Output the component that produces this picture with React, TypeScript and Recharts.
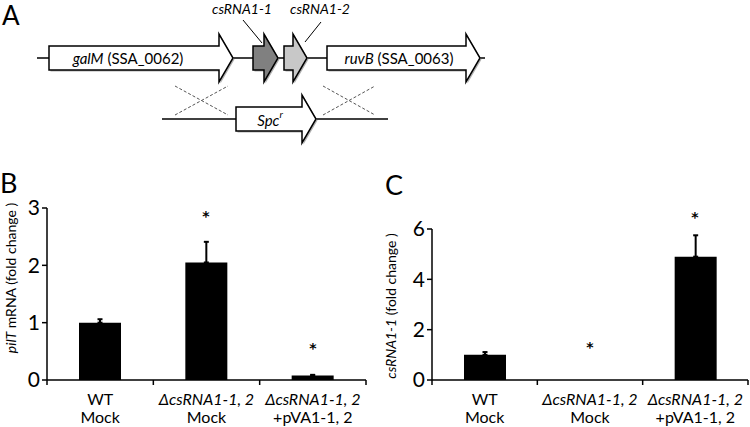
import React from "react";
import { ComposedChart, Bar, XAxis, YAxis, ErrorBar, ReferenceDot } from "recharts";

const FONT = "Lato, 'Open Sans', sans-serif";

// groups shared by panels B and C
const groups = ["wt", "del", "comp"];
const groupLine1 = ["WT", "ΔcsRNA1-1, 2", "ΔcsRNA1-1, 2"];
const groupLine2 = ["Mock", "Mock", "+pVA1-1, 2"];
const line1Italic = [false, true, true];

// panel B: pilT mRNA
const pilTMean = [1.0, 2.05, 0.08];
const pilTErr = [0.06, 0.36, 0.01];
const pilTStars = [null, 2.91, 0.61];
const pilTTicks = [0, 1, 2, 3];

// panel C: csRNA1-1
const csrnaMean = [1.0, 0, 4.9];
const csrnaErr = [0.11, 0, 0.85];
const csrnaStars = [null, 1.43, 6.6];
const csrnaTicks = [0, 2, 4, 6];

// panel A: gene map (diagram units)
const geneNames = ["galM", "csRNA1-1", "csRNA1-2", "ruvB"];
const geneLocus = [" (SSA_0062)", "", "", " (SSA_0063)"];
const geneStart = [49, 253, 284, 327];
const geneEnd = [233, 278, 307, 480];
const geneFill = ["#ffffff", "#808080", "#c8c8c8", "#ffffff"];

const arrowPath = (start: number, end: number, cy: number) => {
  const hs = end - 14;
  return `M${start},${cy - 12} L${hs},${cy - 12} L${hs},${cy - 24} L${end},${cy} L${hs},${cy + 24} L${hs},${cy + 12} L${start},${cy + 12} Z`;
};

const GeneMap = () => {
  const cy = 58;
  return (
    <svg width={750} height={150} style={{ position: "absolute", left: 0, top: 0 }} fontFamily={FONT}>
      <text x={2} y={25} fontSize={26}>A</text>
      <line x1={37} x2={485} y1={cy} y2={cy} stroke="#000" strokeWidth={1.5} />
      {geneNames.map((g, i) => (
        <g key={g}>
          <path d={arrowPath(geneStart[i] + 1.5, geneEnd[i] + 1.5, cy + 1.5)} fill="#b0b0b0" />
          <path d={arrowPath(geneStart[i], geneEnd[i], cy)} fill={geneFill[i]} stroke="#000" strokeWidth={1.5} />
        </g>
      ))}
      <text x={128} y={cy} textAnchor="middle" dominantBaseline="central" fontSize={15}>
        <tspan fontStyle="italic">{geneNames[0]}</tspan>
        <tspan>{geneLocus[0]}</tspan>
      </text>
      <text x={399} y={cy} textAnchor="middle" dominantBaseline="central" fontSize={15}>
        <tspan fontStyle="italic">{geneNames[3]}</tspan>
        <tspan>{geneLocus[3]}</tspan>
      </text>
      <text x={242} y={14} textAnchor="middle" fontSize={14} fontStyle="italic">{geneNames[1]}</text>
      <text x={320} y={14} textAnchor="middle" fontSize={14} fontStyle="italic">{geneNames[2]}</text>
      <line x1={243} y1={20} x2={262} y2={43} stroke="#000" strokeWidth={1} />
      <line x1={321} y1={22} x2={305} y2={42} stroke="#000" strokeWidth={1} />

      <g stroke="#555" strokeWidth={1} strokeDasharray="3 2">
        <line x1={175} y1={86} x2={228} y2={115} />
        <line x1={175} y1={115} x2={228} y2={86} />
        <line x1={323} y1={86} x2={375} y2={115} />
        <line x1={323} y1={115} x2={375} y2={86} />
      </g>
      <line x1={162} x2={388} y1={119} y2={119} stroke="#000" strokeWidth={1.5} />
      <path d={arrowPath(237.5, 317.5, 120.5)} fill="#b0b0b0" />
      <path d={arrowPath(236, 316, 119)} fill="#fff" stroke="#000" strokeWidth={1.5} />
      <text x={270} y={120} textAnchor="middle" dominantBaseline="central" fontSize={15} fontStyle="italic">
        Spc<tspan fontSize={10} dy={-6}>r</tspan>
      </text>
    </svg>
  );
};

const GroupTick = (props: any) => {
  const { x, y, index, step } = props;
  return (
    <g fontFamily={FONT} fill="#000">
      {index === 0 && (
        <line x1={x - step / 2} x2={x - step / 2} y1={y} y2={y + 5} stroke="#000" strokeWidth={1.5} />
      )}
      <line x1={x + step / 2} x2={x + step / 2} y1={y} y2={y + 5} stroke="#000" strokeWidth={1.5} />
      <text x={x} y={y + 25} textAnchor="middle" fontSize={16} fontStyle={line1Italic[index] ? "italic" : "normal"}>
        {groupLine1[index]}
      </text>
      <text x={x} y={y + 43} textAnchor="middle" fontSize={16}>
        {groupLine2[index]}
      </text>
    </g>
  );
};

const AxisTitle = ({ cx, cy, italicPart, rest }: any) => (
  <text
    transform={`rotate(-90 ${cx} ${cy})`}
    x={cx}
    y={cy}
    textAnchor="middle"
    dominantBaseline="central"
    fontSize={14}
    fontFamily={FONT}
    fill="#000"
  >
    <tspan fontStyle="italic">{italicPart}</tspan>
    <tspan>{rest}</tspan>
  </text>
);

const Star = (p: any) => (
  <text
    x={Math.round(p.cx)}
    y={Math.round(p.cy) + 8}
    textAnchor="middle"
    fontSize={14}
    fontWeight="bold"
    fontFamily="'DejaVu Sans', sans-serif"
    style={{ fill: "#000", stroke: "none" }}
  >
    *
  </text>
);

interface PanelProps {
  letter: string;
  left: number;
  width: number;
  yAxisWidth: number;
  marginTop: number;
  marginRight: number;
  means: number[];
  errs: number[];
  stars: (number | null)[];
  ticks: number[];
  titleItalic: string;
  titleRest: string;
  titleCy: number;
  letterX: number;
  letterY: number;
}

const Panel: React.FC<PanelProps> = ({
  letter, left, width, yAxisWidth, marginTop, marginRight,
  means, errs, stars, ticks, titleItalic, titleRest, titleCy, letterX, letterY,
}) => {
  const height = 277;
  const rows = groups.map((g, i) => ({ group: g, value: means[i], err: [0, errs[i]] }));
  const step = (width - yAxisWidth - marginRight) / groups.length;
  const top = ticks[ticks.length - 1];
  return (
    <div style={{ position: "absolute", left, top: 150, width, height }}>
      <svg width={width} height={height} style={{ position: "absolute", left: 0, top: 0 }}>
        <text x={letterX} y={letterY} fontSize={27} fontFamily={FONT}>{letter}</text>
      </svg>
      <ComposedChart
        width={width}
        height={height}
        data={rows}
        margin={{ top: marginTop, right: marginRight, bottom: 0, left: 0 }}
        style={{ position: "absolute", left: 0, top: 0 }}
      >
        <XAxis
          dataKey="group"
          height={47}
          tickLine={false}
          tickSize={0}
          tickMargin={0}
          interval={0}
          axisLine={{ stroke: "#000", strokeWidth: 1.5 }}
          tick={(p: any) => <GroupTick {...p} step={step} />}
        />
        <YAxis
          width={yAxisWidth}
          domain={[0, top]}
          ticks={ticks}
          allowDataOverflow
          tickSize={5}
          axisLine={{ stroke: "#000", strokeWidth: 1.5 }}
          tickLine={{ stroke: "#000", strokeWidth: 1.5 }}
          tick={{ fontSize: 21, fill: "#000", fontFamily: FONT }}
          label={{
            content: () => <AxisTitle cx={10} cy={titleCy} italicPart={titleItalic} rest={titleRest} />,
          }}
        />
        <Bar dataKey="value" fill="#000" barSize={42} isAnimationActive={false}>
          <ErrorBar dataKey="err" direction="y" width={2.5} stroke="#000" strokeWidth={2} />
        </Bar>
        {stars.map((s, i) =>
          s === null ? null : (
            <ReferenceDot key={i} x={groups[i]} y={s} ifOverflow="visible" shape={Star} />
          )
        )}
      </ComposedChart>
    </div>
  );
};

export default function App() {
  return (
    <div style={{ position: "absolute", left: 0, top: 0, width: 750, height: 427, background: "#fff", fontFamily: FONT }}>
      <GeneMap />
      <Panel
        letter="B"
        left={0}
        width={380}
        yAxisWidth={47}
        marginTop={58}
        marginRight={14}
        means={pilTMean}
        errs={pilTErr}
        stars={pilTStars}
        ticks={pilTTicks}
        titleItalic="pilT"
        titleRest=" mRNA (fold change )"
        titleCy={128}
        letterX={0}
        letterY={43}
      />
      <Panel
        letter="C"
        left={380}
        width={370}
        yAxisWidth={52}
        marginTop={79}
        marginRight={2}
        means={csrnaMean}
        errs={csrnaErr}
        stars={csrnaStars}
        ticks={csrnaTicks}
        titleItalic="csRNA1-1"
        titleRest=" (fold change )"
        titleCy={156}
        letterX={5}
        letterY={45}
      />
    </div>
  );
}
